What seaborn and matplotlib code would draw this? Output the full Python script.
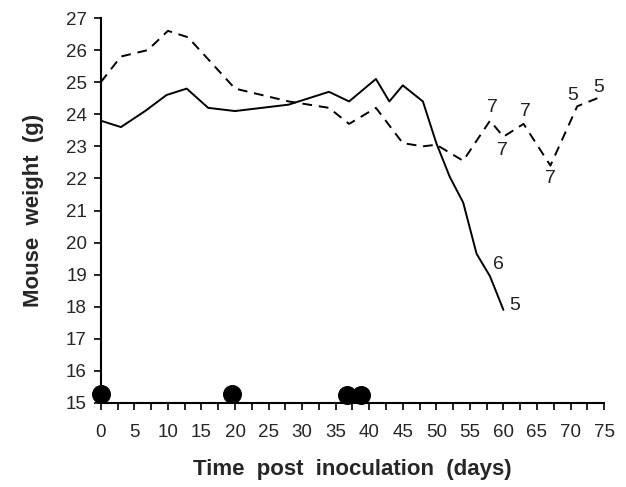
import matplotlib
matplotlib.use("Agg")
import matplotlib.pyplot as plt
import seaborn as sns
import pandas as pd

# control group (dashed) and infected group (solid), mouse weight in g
days_ctrl = [0, 3, 7, 10, 13, 20, 28, 34, 37, 41, 45, 48, 50, 54, 58, 60, 63, 67, 71, 74]
wt_ctrl = [25.0, 25.8, 26.0, 26.6, 26.4, 24.8, 24.4, 24.2, 23.7, 24.2, 23.1, 23.0, 23.05,
           22.55, 23.8, 23.3, 23.7, 22.4, 24.25, 24.5]
days_inf = [0, 3, 6.6, 9.8, 12.8, 16, 20, 28, 34, 37, 41, 43, 45, 48, 50, 52, 54, 56, 58, 60]
wt_inf = [23.8, 23.6, 24.1, 24.6, 24.8, 24.2, 24.1, 24.3, 24.7, 24.4, 25.1, 24.4, 24.9,
          24.4, 23.1, 22.05, 21.25, 19.65, 18.95, 17.9]

# surviving mice counts shown next to late points
ctrl_counts = {58: "7", 60: "7", 63: "7", 67: "7", 71: "5", 74: "5"}
inf_counts = {58: "6", 60: "5"}

# inoculation days
inoc_days = [0, 19.5, 36.7, 38.8]
inoc_y = [15.27, 15.27, 15.25, 15.25]

sns.set_style("ticks")
plt.rcParams['font.family'] = ['Liberation Sans', 'DejaVu Sans']

fig = plt.figure(figsize=(6.26, 4.87), dpi=100)
ax = fig.add_axes([0.161, 0.1725, 0.804, 0.7905])

df_ctrl = pd.DataFrame({"day": days_ctrl, "wt": wt_ctrl})
df_inf = pd.DataFrame({"day": days_inf, "wt": wt_inf})

sns.lineplot(data=df_ctrl, x="day", y="wt", ax=ax, color="black", lw=1.4,
             linestyle=(0, (5, 3.5)), sort=False)
sns.lineplot(data=df_inf, x="day", y="wt", ax=ax, color="black", lw=1.4, sort=False)
sns.scatterplot(x=inoc_days, y=inoc_y, ax=ax, color="black", s=160, edgecolor="black",
                zorder=5, clip_on=False)

ctrl_off = {58: (2, 13), 60: (-1, -14), 63: (2, 12), 67: (0, -13), 71: (-5, 11), 74: (1, 11)}
for d, w in zip(days_ctrl, wt_ctrl):
    if d in ctrl_counts:
        ax.annotate(ctrl_counts[d], (d, w), xytext=ctrl_off[d], textcoords="offset pixels",
                    ha="center", va="center", fontsize=14, color="#222222")
inf_off = {58: (8, 12), 60: (11, 4)}
for d, w in zip(days_inf, wt_inf):
    if d in inf_counts:
        ax.annotate(inf_counts[d], (d, w), xytext=inf_off[d], textcoords="offset pixels",
                    ha="center", va="center", fontsize=14, color="#222222")

ax.set_xlim(0, 75)
ax.set_ylim(15, 27)
ax.set_xticks(range(0, 76, 5))
ax.set_xticks([x + 2.5 for x in range(0, 75, 5)], minor=True)
ax.set_yticks(range(15, 28))
ax.tick_params(axis="both", which="major", labelsize=13.5, length=5, width=1.2, color="black")
ax.tick_params(axis="x", which="major", pad=10)
ax.tick_params(axis="y", which="major", pad=5)
ax.tick_params(axis="x", which="minor", length=5, width=1.2, color="black")
for s in ["left", "bottom"]:
    ax.spines[s].set_linewidth(1.5)
    ax.spines[s].set_color("black")
sns.despine(ax=ax)

ax.set_xlabel("Time  post  inoculation  (days)", fontsize=16, fontweight="bold", labelpad=13)
ax.set_ylabel("Mouse  weight  (g)", fontsize=16, fontweight="bold", labelpad=16)

fig.savefig("out.png", dpi=100)
